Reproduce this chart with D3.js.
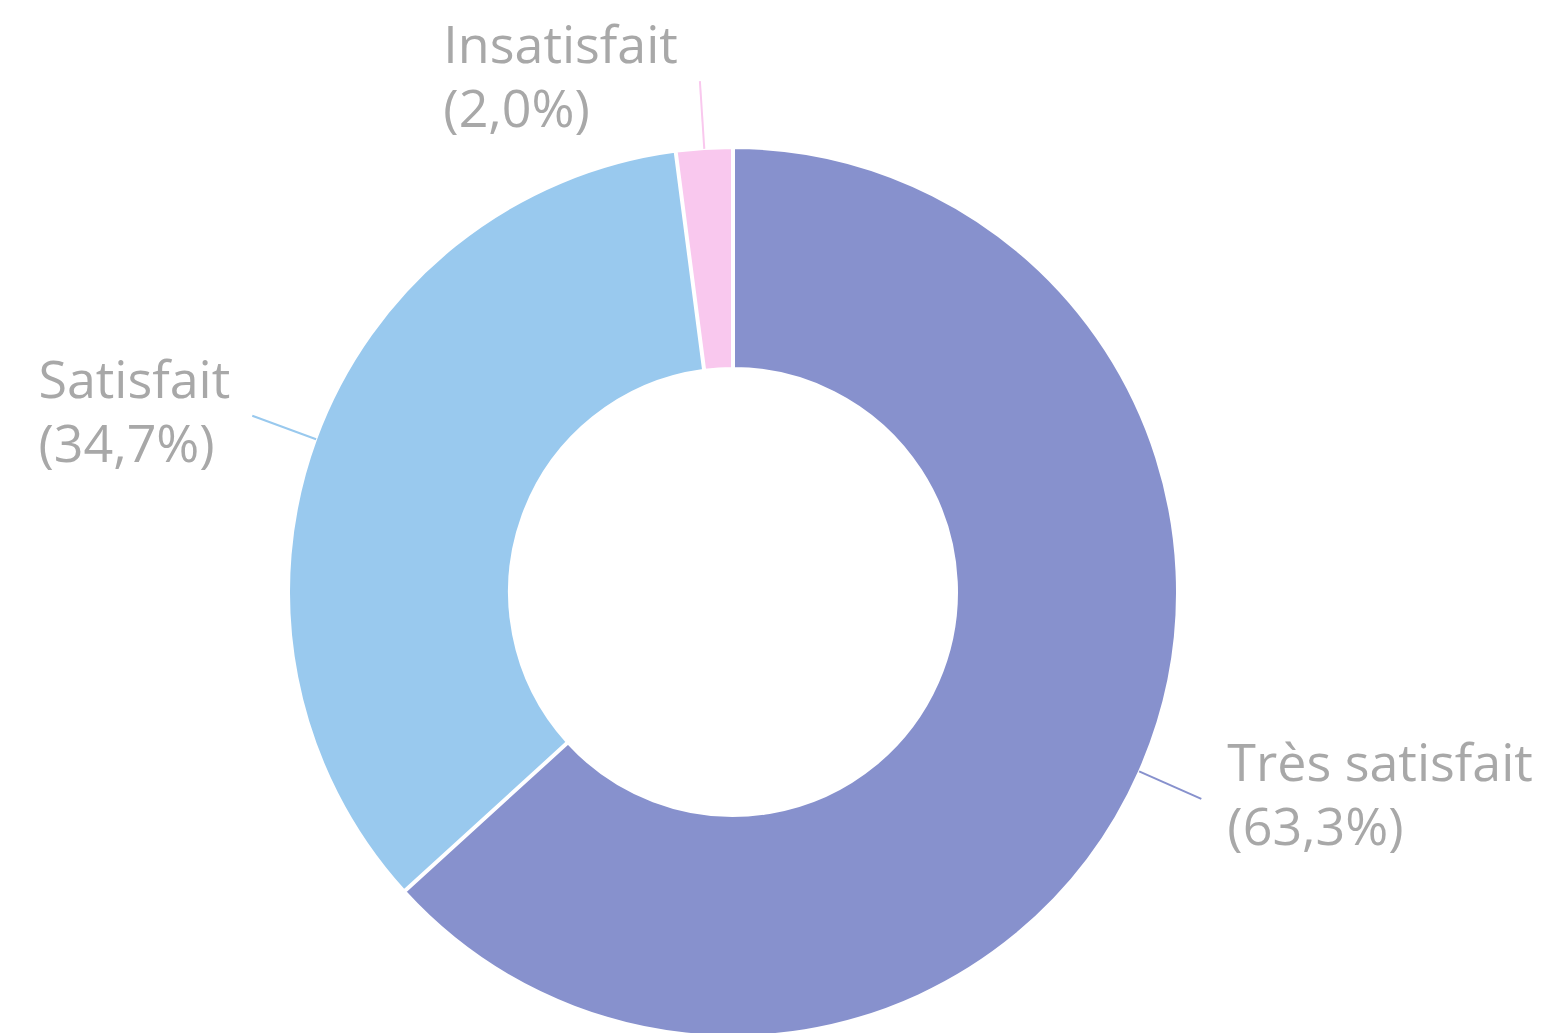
<!DOCTYPE html>
<html><head><meta charset="utf-8">
<script src="https://cdn.jsdelivr.net/npm/d3@7"></script>
<style>html,body{margin:0;padding:0;background:#fff;overflow:hidden}</style>
</head><body>
<svg id="chart" width="1553" height="1033"></svg>
<script>
const categories = ["Très satisfait", "Satisfait", "Insatisfait"];
const values = [63.3, 34.7, 2.0];
const colors = ["#8791CD", "#99C9EE", "#F9C8EE"];
const percentLabels = ["(63,3%)", "(34,7%)", "(2,0%)"];

const svg = d3.select("#chart");
const cx = 733, cy = 592, R = 444, r = 224;
const g = svg.append("g").attr("transform", `translate(${cx},${cy})`);

const data = categories.map((c, i) => ({cat: c, value: values[i], color: colors[i], pct: percentLabels[i]}));
const pie = d3.pie().value(d => d.value).sort(null).padAngle(0.004);
const arc = d3.arc().innerRadius(r).outerRadius(R);
const arcs = pie(data);

g.selectAll("path.slice").data(arcs).join("path")
  .attr("class", "slice")
  .attr("d", arc)
  .attr("fill", d => d.data.color)
  .attr("stroke", "#fff").attr("stroke-width", 2);

const lineLen = 68;
arcs.forEach(a => {
  const mid = (a.startAngle + a.endAngle) / 2;
  const sx = Math.sin(mid), sy = -Math.cos(mid);
  const p1 = [sx * R, sy * R], p2 = [sx * (R + lineLen), sy * (R + lineLen)];
  g.append("line").attr("x1", p1[0]).attr("y1", p1[1]).attr("x2", p2[0]).attr("y2", p2[1])
    .attr("stroke", a.data.color).attr("stroke-width", 2);
  const right = sx > 0;
  const t = g.append("text")
    .attr("font-family", "'Open Sans', sans-serif")
    .attr("font-size", 52)
    .attr("fill", "#a8a8a8");
  const l1 = t.append("tspan").attr("y", p2[1] - 18).text(a.data.cat);
  const l2 = t.append("tspan").attr("y", p2[1] - 18 + 64).text(a.data.pct);
  let x;
  if (right) {
    x = p2[0] + 26;
  } else {
    const w = Math.max(l1.node().getComputedTextLength(), l2.node().getComputedTextLength());
    x = p2[0] - 22 - w;
  }
  l1.attr("x", x); l2.attr("x", x);
});
</script>
</body></html>
